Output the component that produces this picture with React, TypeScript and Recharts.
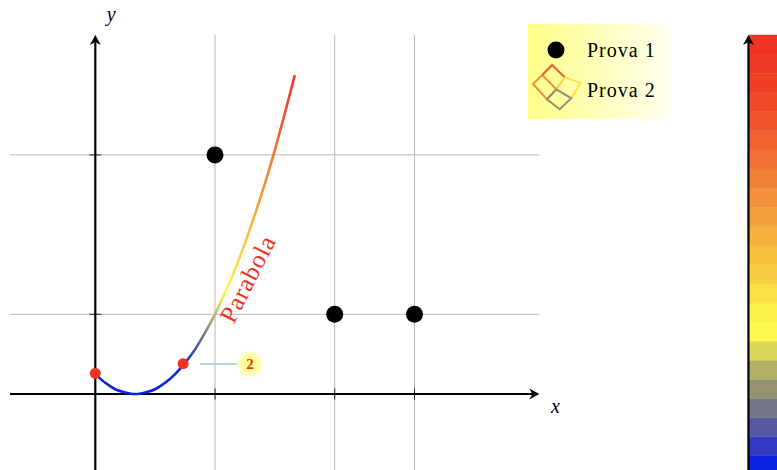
import {
  ComposedChart,
  BarChart,
  Bar,
  Line,
  Scatter,
  XAxis,
  YAxis,
  CartesianGrid,
  Legend,
  ReferenceLine,
  ReferenceDot,
} from 'recharts'

const SERIF = '"Liberation Serif", serif'
const RED = '#ee3224'

// parabola
const curveX = [0, 0.25, 0.5, 0.75, 1, 1.25, 1.5, 1.75, 2, 2.25, 2.5, 2.75, 3, 3.25, 3.5, 3.75, 4, 4.25, 4.5, 4.75, 5]
const curveY = [0.25, 0.14, 0.06, 0.02, 0, 0.02, 0.06, 0.14, 0.25, 0.39, 0.56, 0.77, 1, 1.27, 1.56, 1.89, 2.25, 2.64, 3.06, 3.52, 4]

const prova1X = [3, 6, 8]
const prova1Y = [3, 1, 1]

const markX = [0, 2.2]
const markY = [0.26, 0.38]

const gridX = [3, 6, 8]
const gridY = [1, 3]

const legendLabels = ['Prova 1', 'Prova 2']

// colour bar bands, bottom to top
const bandColors = [
  '#0a23e0', '#323ac3', '#5558a5', '#737687', '#949270', '#b2b064', '#dad95a', '#fdf94f',
  '#fdf04a', '#fbe046', '#f8cf44', '#f6c041', '#f5b03e', '#f4a03c', '#f29139', '#f18136',
  '#f07132', '#ef612e', '#ef552b', '#ef4a28', '#ee4026', '#ee3a25', '#ee3324',
]

const curveData = curveX.map((x, i) => ({ x, y: curveY[i] }))
const prova1Data = prova1X.map((x, i) => ({ x, y: prova1Y[i] }))
const markData = markX.map((x, i) => ({ x, y: markY[i] }))
const bandRow: Record<string, number | string> = { name: 'bar' }
bandColors.forEach((_, i) => {
  bandRow['b' + i] = 1
})

function Arrow(props: any) {
  const { x1, y1, x2, y2 } = props
  const a = Math.atan2(y2 - y1, x2 - x1)
  const p = (l: number, w: number) =>
    `${x2 - l * Math.cos(a) - w * Math.sin(a)},${y2 - l * Math.sin(a) + w * Math.cos(a)}`
  return (
    <g>
      <line x1={x1} y1={y1} x2={x2 - 3 * Math.cos(a)} y2={y2 - 3 * Math.sin(a)} stroke="#000" strokeWidth={2.2} />
      <polygon points={`${x2},${y2} ${p(10, 5.5)} ${p(7, 0)} ${p(10, -5.5)}`} fill="#000" />
    </g>
  )
}

function Tick(props: any) {
  const { x1, y1, x2, y2 } = props
  return <line x1={x1} y1={y1} x2={x2} y2={y2} stroke="#222" strokeWidth={1} />
}

function MathLabel(text: string, dx: number, dy: number) {
  return (props: any) => (
    <text x={props.cx + dx} y={props.cy + dy} fontFamily={SERIF} fontStyle="italic" fontSize={20} fill="#000" textAnchor="middle">
      {text}
    </text>
  )
}

function ParabolaLabel(props: any) {
  return (
    <text
      transform={`translate(${props.cx},${props.cy}) rotate(-63)`}
      fontFamily={SERIF}
      fontSize={25}
      letterSpacing={0.9}
      fill={RED}
      textAnchor="middle"
      dominantBaseline="middle"
    >
      Parabola
    </text>
  )
}

function Pin(props: any) {
  const { cx, cy } = props
  return (
    <g>
      <defs>
        <radialGradient id="pinFill">
          <stop offset="0%" stopColor="#ffff80" />
          <stop offset="60%" stopColor="#ffffa0" />
          <stop offset="100%" stopColor="#ffffd8" />
        </radialGradient>
      </defs>
      <line x1={cx - 50} y1={cy} x2={cx - 13} y2={cy} stroke="#b5d8d8" strokeWidth={2} />
      <circle cx={cx} cy={cy} r={13} fill="url(#pinFill)" />
      <text x={cx} y={cy + 5} fontFamily={SERIF} fontWeight="bold" fontSize={15} fill={RED} textAnchor="middle">
        2
      </text>
    </g>
  )
}

function LegendBox() {
  return (
    <div
      style={{
        width: 143,
        height: 95,
        background: 'linear-gradient(to right, #ffff88, #fffff0)',
        position: 'relative',
        fontFamily: SERIF,
        fontSize: 20,
        letterSpacing: 1,
        color: '#000',
      }}
    >
      <svg width={60} height={95} style={{ position: 'absolute', left: 0, top: 0 }}>
        <circle cx={28} cy={26} r={8.5} fill="#000" />
        <g fill="none" strokeWidth={2}>
          <path d="M14.3 51 L28.3 65.3 L19 75.3 L5 60 Z" stroke="#f29139" />
          <path d="M14.3 51 L24 41 L36.7 53.3" stroke="#ee5a2a" />
          <path d="M36.7 53.3 L28.3 65.3" stroke="#f8cf44" />
          <path d="M36.7 53.3 L52.7 58.7 L43.3 74.3" stroke="#fde24a" />
          <path d="M28.3 65.3 L43.3 74.3 L31.7 85.3 L19 75.3 Z" stroke="#949270" />
        </g>
      </svg>
      <div style={{ position: 'absolute', left: 59, top: 15, lineHeight: '22px' }}>{legendLabels[0]}</div>
      <div style={{ position: 'absolute', left: 59, top: 55, lineHeight: '22px' }}>{legendLabels[1]}</div>
    </div>
  )
}

export default function App() {
  return (
    <div style={{ position: 'fixed', left: 0, top: 0, width: 777, height: 470, overflow: 'hidden', background: '#fff' }}>
      <BarChart
        width={29}
        height={475}
        data={[bandRow]}
        margin={{ top: 35, right: 0, bottom: 0, left: 0 }}
        barCategoryGap={0}
        style={{ position: 'absolute', left: 749, top: 0 }}
      >
        <XAxis dataKey="name" hide />
        <YAxis type="number" domain={[0, 23]} hide />
        {bandColors.map((c, i) => (
          <Bar key={i} dataKey={'b' + i} stackId="bar" fill={c} stroke={c} strokeWidth={0.5} isAnimationActive={false} />
        ))}
      </BarChart>
      <ComposedChart
        width={777}
        height={470}
        data={curveData}
        margin={{ top: 35, right: 237.7, bottom: 0, left: 10 }}
        style={{ position: 'absolute', left: 0, top: 0 }}
      >
        <defs>
          <linearGradient id="curveFill" x1="0" y1="1" x2="0" y2="0">
            <stop offset="0%" stopColor="#0a23e0" />
            <stop offset="9%" stopColor="#0a23e0" />
            <stop offset="20%" stopColor="#8a8a78" />
            <stop offset="32%" stopColor="#fdf94f" />
            <stop offset="65%" stopColor="#f29139" />
            <stop offset="100%" stopColor={RED} />
          </linearGradient>
        </defs>
        <XAxis type="number" dataKey="x" domain={[-2.138, 11.128]} ticks={gridX} hide allowDataOverflow />
        <YAxis type="number" dataKey="y" domain={[-0.9536, 4.504]} ticks={gridY} hide allowDataOverflow />
        <CartesianGrid stroke="#b8b8b8" strokeWidth={1} verticalValues={gridX} horizontalValues={gridY} />
        {gridX.map((x) => (
          <ReferenceLine key={x} segment={[{ x, y: -0.07 }, { x, y: 0.07 }]} shape={Tick} />
        ))}
        {gridY.map((y) => (
          <ReferenceLine key={y} segment={[{ x: -0.15, y }, { x: 0.15, y }]} shape={Tick} />
        ))}
        <ReferenceLine segment={[{ x: -2.138, y: 0 }, { x: 11.128, y: 0 }]} shape={Arrow} />
        <ReferenceLine segment={[{ x: 0, y: -0.9536 }, { x: 0, y: 4.504 }]} shape={Arrow} />
        <ReferenceLine segment={[{ x: 16.37, y: -0.9536 }, { x: 16.37, y: 4.504 }]} ifOverflow="visible" shape={Arrow} />
        <Line
          dataKey="y"
          stroke="url(#curveFill)"
          strokeWidth={2.6}
          type="monotone"
          dot={false}
          isAnimationActive={false}
          legendType="none"
        />
        <Scatter data={prova1Data} dataKey="y" fill="#000" shape={(p: any) => <circle cx={p.cx} cy={p.cy} r={8.5} fill="#000" />} isAnimationActive={false} />
        <Scatter data={markData} dataKey="y" fill={RED} shape={(p: any) => <circle cx={p.cx} cy={p.cy} r={5.5} fill={RED} />} isAnimationActive={false} />
        <ReferenceDot x={3.88} y={1.43} r={0} shape={ParabolaLabel} />
        <ReferenceDot x={3.877} y={0.375} r={0} shape={Pin} />
        <ReferenceDot x={11.53} y={0} r={0} ifOverflow="visible" shape={MathLabel('x', 0, 19)} />
        <ReferenceDot x={0.4} y={4.504} r={0} ifOverflow="visible" shape={MathLabel('y', 0, -14)} />
        <Legend
          content={LegendBox}
          layout="vertical"
          align="center"
          verticalAlign="middle"
          wrapperStyle={{ position: 'absolute', left: 528, top: 24, width: 143, height: 95 }}
        />
      </ComposedChart>
    </div>
  )
}
